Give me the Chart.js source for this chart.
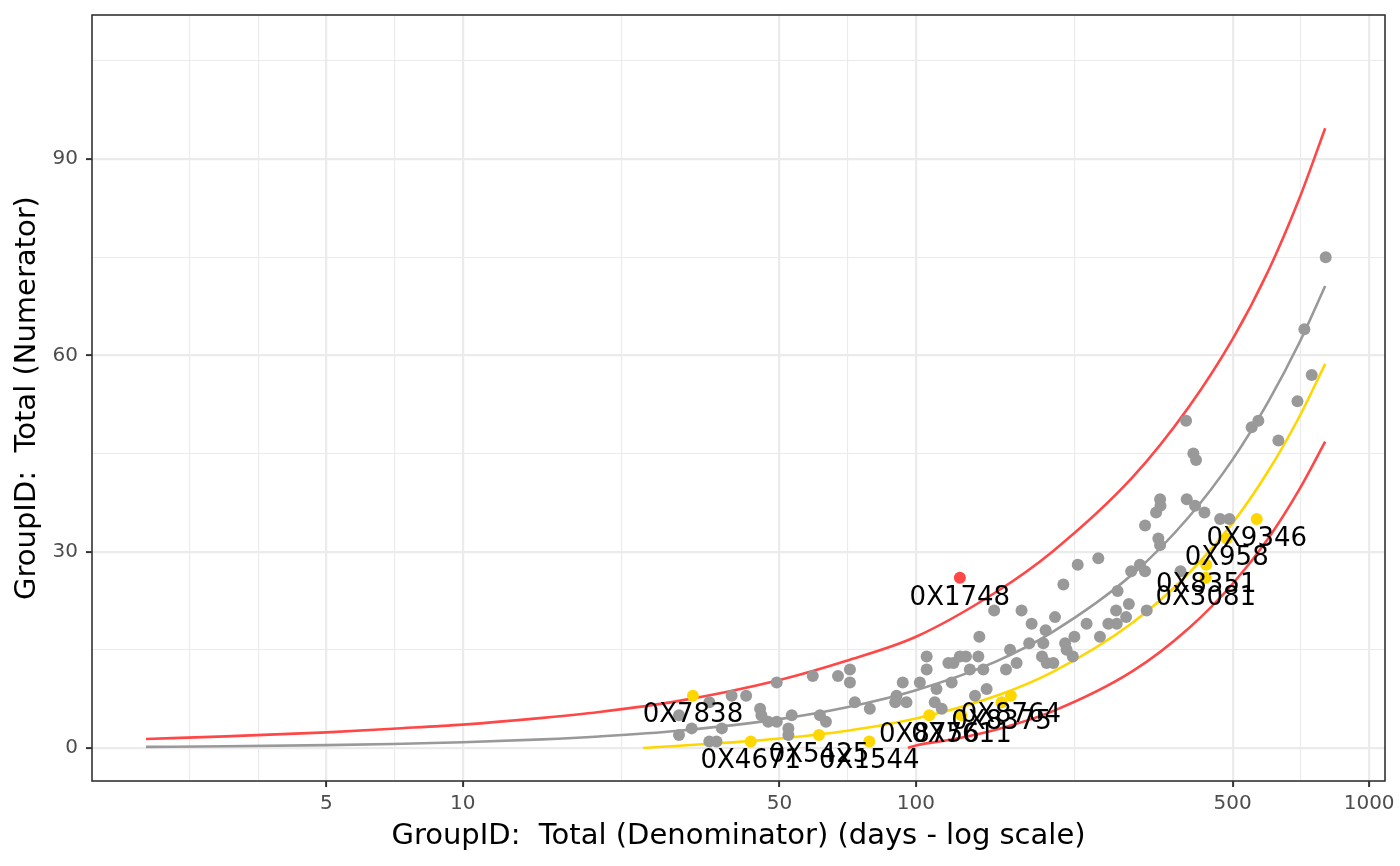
<!DOCTYPE html>
<html><head><meta charset="utf-8">
<script src="https://cdn.jsdelivr.net/npm/chart.js@4/dist/chart.umd.min.js"></script>
<style>html,body{margin:0;padding:0;background:#fff}#wrap{width:1400px;height:866px}</style>
</head><body><div id="wrap"><canvas id="c" width="1400" height="866"></canvas></div>
<script>
// ---- axis ticks ----
const xMajorTicks = [5, 10, 50, 100, 500, 1000];
const xMinorTicks = [2.5, 3.54, 7.07, 22.4, 70.7, 223.6, 707];
const yMajorTicks = [0, 30, 60, 90];
const yMinorTicks = [15, 45, 75, 105];

// ---- grey (in control) units ----
const greyX = [30,30,32,35,35,36.3,37.3,39.2,42.2,45.3,45.6,47.2,49.3,49.3,53.2,52.3,52.3,59.2,61.4,63.3,
  67.3,71.5,71.5,73.3,79.1,90.6,90,93.5,95.3,102,105.6,105.6,111,110,114,117.9,121,119.9,125,128.9,
  137.3,138,131.5,140.8,135,143.2,148.8,158,161.3,166.8,171,180,177.8,189.7,193.3,191,194.3,201,202.7,211.5,
  213.4,215,221.9,223.7,227.5,238,252.6,254.7,265.8,277.4,276.5,278.6,290.9,295,298.5,312,320.3,342.7,345.7,345.7,
  346.4,338.8,320.3,383.5,323,394.5,409.4,415,395.9,413,433.1,469,491.6,550.6,569.6,630.6,694.8,719.6,747,802];
const greyY = [5,2,3,7,1,1,3,8,8,6,5,4,4,10,5,3,2,11,5,4,
  11,12,10,7,6,8,7,10,7,10,14,12,9,7,6,13,13,10,14,14,
  14,17,12,12,8,9,21,12,15,13,21,19,16,14,18,16,13,13,20,25,
  16,15,14,17,28,19,29,17,19,19,21,24,20,22,27,28,34,32,31,38,
  37,36,27,27,21,50,45,44,38,37,36,35,35,49,50,47,53,64,57,75];

// ---- highlighted units ----
const yellowIds = ['0X7838','0X4671','0X5425','0X1544','0X8756','0X7611','0X8375','0X8764','0X9346','0X958','0X8351','0X3081'];
const yellowX = [32.2,43.2,61.1,78.9,107,126,154.5,162,565,485,437,436];
const yellowY = [8,1,2,1,5,5,7,8,35,32,28,26];
const redIds = ['0X1748'];
const redX = [125];
const redY = [26];

// ---- funnel lines ----
const centreX = [2,3,5,7,10,15,20,30,50,70,100,150,200,300,400,500,600,700,800];
const centreY = [0.18,0.26,0.44,0.62,0.88,1.32,1.77,2.65,4.41,6.18,8.83,13.2,17.7,26.5,35.3,44.1,53.0,61.8,70.6];
const upperX = [2,3,5,7,10,15,20,30,50,70,100,150,200,300,400,500,600,700,800];
const upperY = [1.37,1.78,2.39,2.95,3.57,4.6,5.5,7.2,10.4,13.3,17.0,23.8,30.0,41.3,52.1,62.5,73.0,83.8,94.7];
const warnLowX = [25,30,40,50,70,100,150,200,300,400,500,600,700,800];
const warnLowY = [0.0,0.35,0.9,1.45,2.6,4.5,7.95,11.6,19.1,26.7,34.4,42.4,50.5,58.7];
const ctrlLowX = [96,100,120,150,200,300,400,500,600,700,800];
const ctrlLowY = [0.0,0.4,1.3,2.8,5.6,11.7,18.3,25.1,32.1,39.4,46.8];

const RED = '#FF4747', GOLD = '#FFD700', GREY = '#999999';
const FONT = "'DejaVu Sans', sans-serif";

const pts = (xs, ys) => xs.map((x, i) => ({x, y: ys[i]}));

const isMajorX = v => xMajorTicks.some(t => Math.abs(t - v) < 1e-6);
const isMajorY = v => yMajorTicks.includes(v);

const borderPlugin = {
  id: 'panelBorder',
  afterDraw(chart) {
    const {ctx, chartArea: a} = chart;
    ctx.save();
    ctx.strokeStyle = '#333333';
    ctx.lineWidth = 1.6;
    ctx.strokeRect(a.left, a.top, a.right - a.left, a.bottom - a.top);
    ctx.restore();
  }
};

const labelPlugin = {
  id: 'pointLabels',
  afterDatasetsDraw(chart) {
    const {ctx} = chart;
    ctx.save();
    ctx.font = "26px " + FONT;
    ctx.fillStyle = '#000000';
    ctx.textAlign = 'center';
    ctx.textBaseline = 'middle';
    chart.data.datasets.forEach((ds, di) => {
      if (!ds.ids) return;
      const meta = chart.getDatasetMeta(di);
      meta.data.forEach((el, i) => {
        ctx.fillText(ds.ids[i], el.x, el.y + 20);
      });
    });
    ctx.restore();
  }
};

new Chart(document.getElementById('c'), {
  type: 'scatter',
  data: {
    datasets: [
      {label: 'red', ids: redIds, data: pts(redX, redY), backgroundColor: RED, borderWidth: 0, pointRadius: 6, order: 0},
      {label: 'yellow', ids: yellowIds, data: pts(yellowX, yellowY), backgroundColor: GOLD, borderWidth: 0, pointRadius: 6, order: 0},
      {label: 'grey', data: pts(greyX, greyY), backgroundColor: GREY, borderWidth: 0, pointRadius: 6, order: 0},
      {label: 'centre', data: pts(centreX, centreY), showLine: true, borderColor: GREY, borderWidth: 2.6, pointRadius: 0, cubicInterpolationMode: 'monotone', order: 1},
      {label: 'upper', data: pts(upperX, upperY), showLine: true, borderColor: RED, borderWidth: 2.6, pointRadius: 0, cubicInterpolationMode: 'monotone', order: 1},
      {label: 'warnLow', data: pts(warnLowX, warnLowY), showLine: true, borderColor: GOLD, borderWidth: 2.6, pointRadius: 0, cubicInterpolationMode: 'monotone', order: 1},
      {label: 'ctrlLow', data: pts(ctrlLowX, ctrlLowY), showLine: true, borderColor: RED, borderWidth: 2.6, pointRadius: 0, cubicInterpolationMode: 'monotone', order: 1}
    ]
  },
  options: {
    responsive: false,
    animation: false,
    devicePixelRatio: 1,
    layout: {padding: {top: 15, right: 15, left: 0, bottom: 0}},
    plugins: {legend: {display: false}, tooltip: {enabled: false}},
    scales: {
      x: {
        type: 'logarithmic',
        min: 1.52, max: 1084,
        afterBuildTicks(s) { s.ticks = xMinorTicks.concat(xMajorTicks).sort((a, b) => a - b).map(v => ({value: v})); },
        afterFit(s) { s.height = 85; s.paddingLeft = 0; s.paddingRight = 0; },
        border: {display: false},
        grid: {
          color: '#EBEBEB',
          lineWidth: c => (c.tick && isMajorX(c.tick.value)) ? 2.2 : 1.1,
          tickColor: c => (c.tick && isMajorX(c.tick.value)) ? '#333333' : 'rgba(0,0,0,0)',
          tickWidth: 2,
          tickLength: 6
        },
        ticks: {
          autoSkip: false, maxRotation: 0, padding: 5,
          color: '#4D4D4D', font: {family: FONT, size: 20},
          callback: v => isMajorX(v) ? String(v) : ''
        },
        title: {display: true, text: 'GroupID:  Total (Denominator) (days - log scale)', color: '#000000',
          font: {family: FONT, size: 29}, padding: {top: 0, bottom: 12}}
      },
      y: {
        type: 'linear',
        min: -5.04, max: 112,
        afterBuildTicks(s) { s.ticks = yMajorTicks.concat(yMinorTicks).sort((a, b) => a - b).map(v => ({value: v})); },
        afterFit(s) { s.width = 92; s.paddingTop = 0; s.paddingBottom = 0; },
        border: {display: false},
        grid: {
          color: '#EBEBEB',
          lineWidth: c => (c.tick && isMajorY(c.tick.value)) ? 2.2 : 1.1,
          tickColor: c => (c.tick && isMajorY(c.tick.value)) ? '#333333' : 'rgba(0,0,0,0)',
          tickWidth: 2,
          tickLength: 6
        },
        ticks: {
          autoSkip: false, padding: 8,
          color: '#4D4D4D', font: {family: FONT, size: 20},
          callback: v => isMajorY(v) ? String(v) : ''
        },
        title: {display: true, text: 'GroupID:  Total (Numerator)', color: '#000000',
          font: {family: FONT, size: 29}, padding: {top: 10, bottom: 0}}
      }
    }
  },
  plugins: [borderPlugin, labelPlugin]
});
</script>
</body></html>
